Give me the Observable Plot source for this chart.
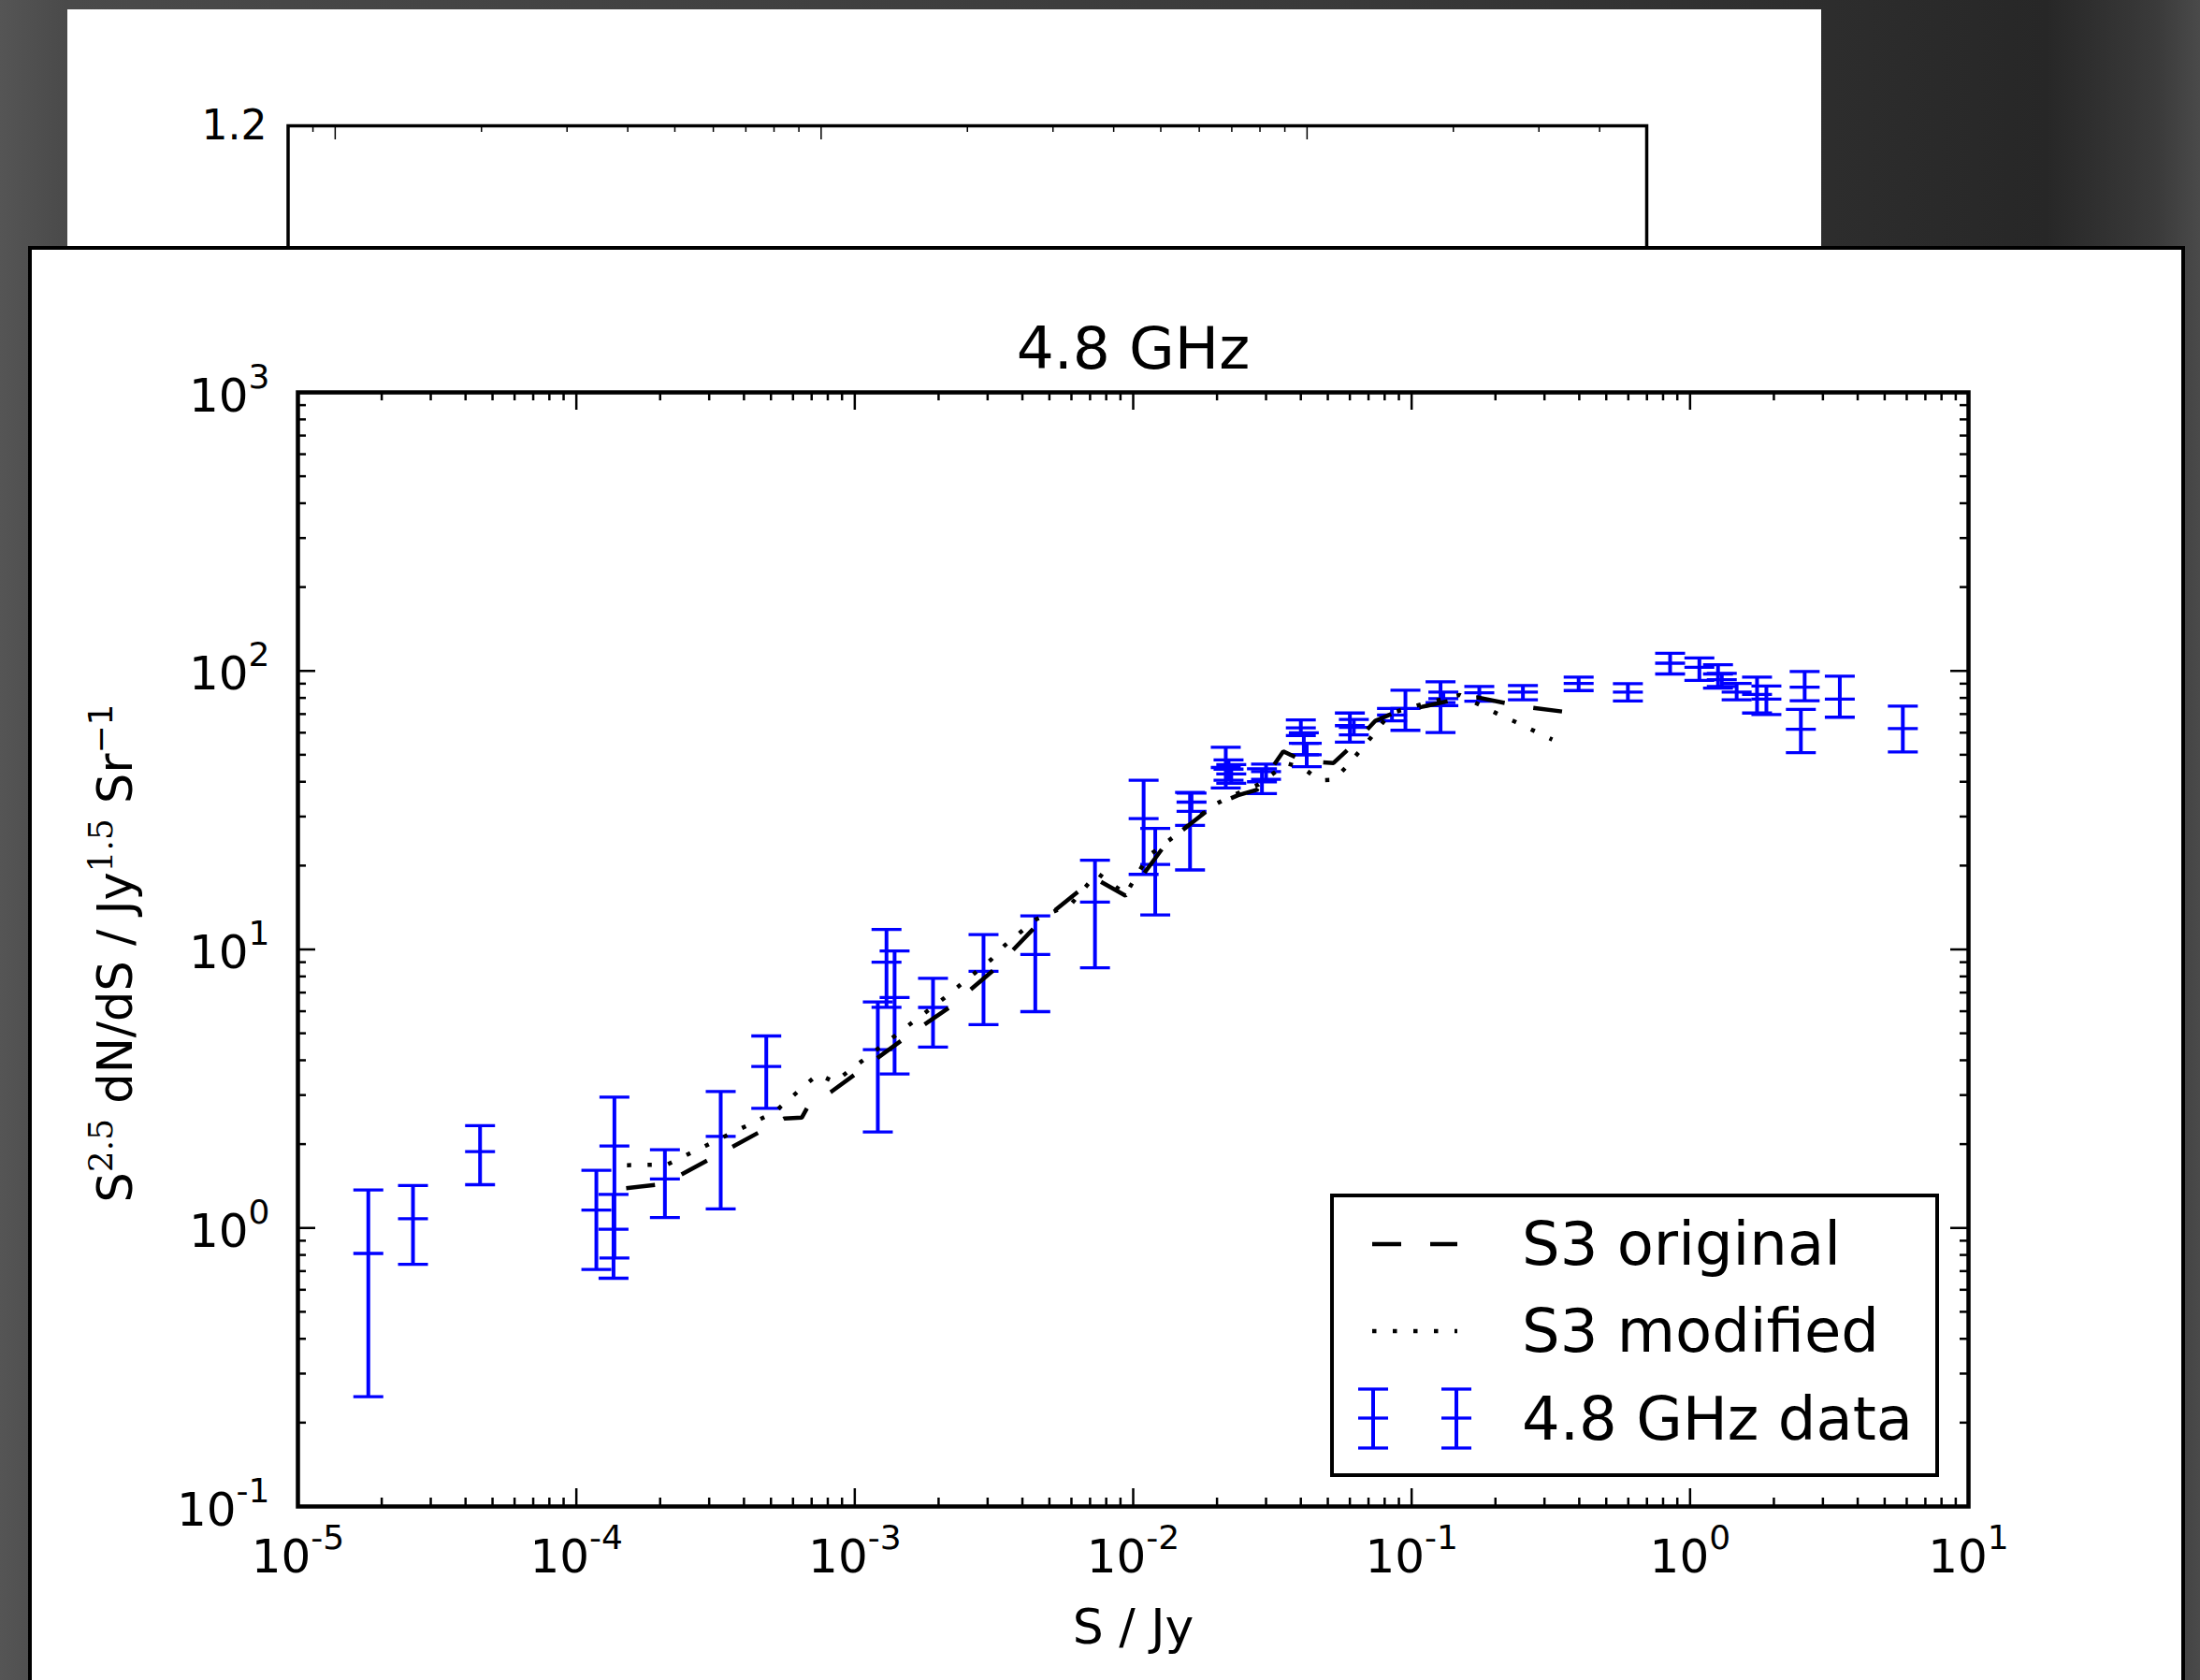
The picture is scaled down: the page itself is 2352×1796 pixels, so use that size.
<!DOCTYPE html>
<html><head><meta charset="utf-8">
<script src="https://cdn.jsdelivr.net/npm/d3@7"></script>
<script src="https://cdn.jsdelivr.net/npm/@observablehq/plot@0.6"></script>
<style>
html,body{margin:0;padding:0;}
body{width:2352px;height:1796px;overflow:hidden;position:relative;
 background:linear-gradient(90deg,#555 0%,#4a4a4a 3%,#424242 30%,#3a3a3a 60%,#2f2f2f 80%,#272727 93%,#3a3a3a 98%,#4a4a4a 100%);
 font-family:"DejaVu Sans";}
#back{position:absolute;left:72px;top:10px;width:1875px;height:400px;background:#fff;overflow:hidden;}
#front{position:absolute;left:30px;top:263px;width:2298px;height:1600px;background:#fff;border:4px solid #000;}
#main{position:absolute;left:40px;top:270px;}
#legend{position:absolute;left:1422px;top:1276px;}
svg text{font-family:"DejaVu Sans";}
</style></head><body>
<div id="back"></div>
<div id="front"></div>
<div id="main"></div>
<div id="legend"></div>
<script>
// ---------- data ----------
const title = "4.8 GHz";
const xLabel = "S / Jy";
const yLabel = "S^2.5 dN/dS / Jy^1.5 Sr^-1";
const legendLabels = ["S3 original", "S3 modified", "4.8 GHz data"];

// 4.8 GHz data points: flux S (Jy), value, lower and upper error bound
const dataS = [1.79e-5, 2.59e-5, 4.51e-5, 1.18e-4, 1.37e-4, 1.36e-4, 2.08e-4, 3.30e-4, 4.81e-4, 1.21e-3, 1.30e-3, 1.39e-3, 1.91e-3, 2.90e-3, 4.45e-3, 7.29e-3, 1.09e-2, 1.20e-2, 1.60e-2, 1.62e-2, 2.15e-2, 2.20e-2, 2.25e-2, 2.90e-2, 3.00e-2, 4.00e-2, 4.10e-2, 4.20e-2, 6.00e-2, 6.20e-2, 8.50e-2, 9.50e-2, 0.127, 0.130, 0.175, 0.251, 0.398, 0.598, 0.848, 1.08, 1.26, 1.30, 1.47, 1.74, 1.88, 2.58, 2.50, 3.45, 5.81];
const dataVal = [0.81, 1.08, 1.88, 1.16, 1.97, 0.99, 1.50, 2.13, 3.80, 4.37, 9.0, 6.72, 6.19, 8.34, 9.59, 14.8, 29.5, 20.2, 27.9, 33.8, 45, 44.4, 42.7, 40.0, 43.5, 62.5, 55.0, 50.0, 63.6, 62.7, 69.5, 73.3, 77, 79.5, 83.4, 83.9, 90.2, 84, 106.6, 103, 97.5, 93, 84, 82.4, 79.2, 87.4, 61.7, 79.2, 62.1];
const dataLo = [0.248, 0.74, 1.43, 0.71, 0.78, 0.66, 1.09, 1.17, 2.69, 2.21, 6.2, 3.57, 4.46, 5.37, 5.98, 8.59, 18.6, 13.3, 19.3, 31.3, 38.0, 40.5, 39.5, 36.3, 40.8, 58.6, 50.0, 45.3, 55.5, 58.9, 66.2, 61.2, 60.1, 75, 77.8, 78.8, 85, 78, 97.5, 92.5, 86.7, 88, 78.8, 70.6, 69.7, 78.2, 50.9, 68.2, 51.2];
const dataHi = [1.37, 1.42, 2.33, 1.61, 2.95, 1.32, 1.91, 3.09, 4.89, 6.48, 11.8, 9.87, 7.88, 11.3, 13.2, 20.9, 40.5, 27.2, 36.6, 36.4, 53.2, 47.9, 46.1, 44.5, 46.3, 66.7, 60.0, 55.0, 70.6, 67.0, 73.3, 85.2, 91.4, 84, 87.9, 88.6, 95, 90, 115.8, 111.4, 105.3, 98, 90.2, 95, 88.3, 99.5, 72.8, 95.7, 74.7];

// S3 original (dashed)
const origS = [1.51e-4, 2.07e-4, 5.58e-4, 6.45e-4, 6.82e-4, 8.22e-4, 1.47e-3, 2.21e-3, 3.19e-3, 4.57e-3, 6.73e-3, 7.28e-3, 9.38e-3, 1.00e-2, 1.32e-2, 1.94e-2, 2.38e-2, 2.78e-2, 3.46e-2, 4.09e-2, 5.24e-2, 6.18e-2, 7.41e-2, 8.87e-2, 0.109, 0.149, 0.173, 0.242, 0.347];
const origV = [1.39, 1.44, 2.47, 2.49, 2.75, 3.08, 4.71, 6.24, 8.52, 12.4, 16.9, 18.0, 15.6, 16.6, 24.2, 32.8, 35.8, 37.4, 51.4, 47.5, 46.7, 54.5, 66.2, 71.5, 74.3, 79.6, 80.3, 74.9, 71.5];

// S3 modified (dotted)
const modS = [1.52e-4, 2.12e-4, 5.13e-4, 7.38e-4, 8.45e-4, 2.10e-3, 3.09e-3, 3.44e-3, 4.46e-3, 6.0e-3, 7.43e-3, 9.4e-3, 1.13e-2, 1.48e-2, 1.91e-2, 2.20e-2, 2.82e-2, 3.56e-2, 4.08e-2, 4.66e-2, 5.27e-2, 5.87e-2, 7.23e-2, 8.37e-2, 0.109, 0.149, 0.202, 0.236, 0.320];
const modV = [1.68, 1.69, 2.60, 3.57, 3.34, 6.70, 9.20, 10.3, 12.8, 14.6, 18.8, 15.8, 21.6, 26.5, 32.6, 35.2, 39.1, 46.6, 44.8, 40.5, 40.7, 45.6, 58.5, 70.4, 76.0, 82.0, 70.4, 65.6, 56.7];

// ticks
const xMajor = [1e-5, 1e-4, 1e-3, 1e-2, 1e-1, 1, 10];
const yMajor = [0.1, 1, 10, 100, 1000];
const minorMult = [2, 3, 4, 5, 6, 7, 8, 9];
// background (partly hidden) panel
const backXMajor = [1, 10, 100];
const backXMinor = [0.9, 2, 3, 4, 5, 6, 7, 8, 9, 20, 30, 40, 50, 60, 70, 80, 90, 200, 300, 400];
const backYTicks = [1.2];

// ---------- derived tables ----------
const xMinor = xMajor.slice(0, -1).flatMap(d => minorMult.map(m => d * m));
const yMinor = yMajor.slice(0, -1).flatMap(d => minorMult.map(m => d * m));
const points = dataS.map((s, i) => ({S: s, v: dataVal[i], lo: dataLo[i], hi: dataHi[i]}));
const orig = origS.map((s, i) => ({S: s, v: origV[i]}));
const mod = modS.map((s, i) => ({S: s, v: modV[i]}));

const BLUE = "#0000ff";
const capSymbol = {draw(ctx, size) { const w = Math.sqrt(size / Math.PI); ctx.moveTo(-w, 0); ctx.lineTo(w, 0); }};
const pow10 = d => "10^" + Math.round(Math.log10(d));

// ---------- back panel ----------
{
  const W = 1875, H = 400, ML = 235.5, MR = 187, MT = 124, MB = 0;
  const FH = H - MT - MB;
  const back = Plot.plot({
    width: W, height: H, marginLeft: ML, marginRight: MR, marginTop: MT, marginBottom: MB,
    x: {type: "log", domain: [0.8, 500], axis: null},
    y: {domain: [0, 1.2]},
    style: {fontFamily: "DejaVu Sans", background: "transparent", overflow: "visible"},
    marks: [
      Plot.tickX(backXMajor, {x: d => d, insetBottom: FH - 15, strokeWidth: 1.5}),
      Plot.tickX(backXMinor, {x: d => d, insetBottom: FH - 7, strokeWidth: 1.5}),
      Plot.axisY(backYTicks, {anchor: "left", tickSize: 0, tickPadding: 22.5, fontSize: 44, tickFormat: d => d.toFixed(1), label: null}),
      Plot.frame({stroke: "#000", strokeWidth: 3.5})
    ]
  });
  document.getElementById("back").appendChild(back);
}

// ---------- main chart ----------
const W = 2290, H = 1526, ML = 278, MR = 226, MT = 149, MB = 186;
const FW = W - ML - MR, FH = H - MT - MB;
const TW = 2.5, MAJ = 19, MIN = 9;

const chart = Plot.plot({
  width: W, height: H, marginLeft: ML, marginRight: MR, marginTop: MT, marginBottom: MB,
  x: {type: "log", domain: [1e-5, 10]},
  y: {type: "log", domain: [0.1, 1000]},
  style: {fontFamily: "DejaVu Sans", background: "transparent", overflow: "visible"},
  marks: [
    // error bars
    Plot.ruleX(points, {x: "S", y1: "lo", y2: "hi", stroke: BLUE, strokeWidth: 4}),
    Plot.dot(points, {x: "S", y: "hi", symbol: capSymbol, r: 16, fill: "none", stroke: BLUE, strokeWidth: 3.3}),
    Plot.dot(points, {x: "S", y: "lo", symbol: capSymbol, r: 16, fill: "none", stroke: BLUE, strokeWidth: 3.3}),
    Plot.dot(points, {x: "S", y: "v", symbol: capSymbol, r: 16, fill: "none", stroke: BLUE, strokeWidth: 3.3}),
    // model lines
    Plot.line(orig, {x: "S", y: "v", stroke: "#000", strokeWidth: 4.5, strokeDasharray: "31,31", strokeLinecap: "butt", strokeLinejoin: "miter"}),
    Plot.line(mod, {x: "S", y: "v", stroke: "#000", strokeWidth: 4.5, strokeDasharray: "4.5,17.5", strokeLinecap: "butt", strokeLinejoin: "miter"}),
    // inward ticks on all four sides
    Plot.tickX(xMajor, {x: d => d, insetTop: FH - MAJ, strokeWidth: TW}),
    Plot.tickX(xMinor, {x: d => d, insetTop: FH - MIN, strokeWidth: TW}),
    Plot.tickX(xMajor, {x: d => d, insetBottom: FH - MAJ, strokeWidth: TW}),
    Plot.tickX(xMinor, {x: d => d, insetBottom: FH - MIN, strokeWidth: TW}),
    Plot.tickY(yMajor, {y: d => d, insetRight: FW - MAJ, strokeWidth: TW}),
    Plot.tickY(yMinor, {y: d => d, insetRight: FW - MIN, strokeWidth: TW}),
    Plot.tickY(yMajor, {y: d => d, insetLeft: FW - MAJ, strokeWidth: TW}),
    Plot.tickY(yMinor, {y: d => d, insetLeft: FW - MIN, strokeWidth: TW}),
    // axes (labels only)
    Plot.axisX(xMajor, {anchor: "bottom", tickSize: 0, tickPadding: 34.5, fontSize: 50, tickFormat: pow10, label: null}),
    Plot.axisY(yMajor, {anchor: "left", tickSize: 0, tickPadding: 30, fontSize: 50, tickFormat: pow10, label: null, dy: 4}),
    // texts
    Plot.text([title], {frameAnchor: "top", text: d => d, fontSize: 63, lineAnchor: "bottom", dy: -26}),
    Plot.text([xLabel], {frameAnchor: "bottom", text: d => d, fontSize: 52, lineAnchor: "bottom", dy: 146}),
    Plot.text([yLabel], {frameAnchor: "left", text: d => d, fontSize: 51, rotate: -90, textAnchor: "middle", lineAnchor: "bottom", dx: -178, dy: 4}),
    Plot.frame({stroke: "#000", strokeWidth: 4.5})
  ]
});

// superscripts as real text (tspans)
d3.select(chart).selectAll("text").each(function () {
  const t = this.textContent;
  const m = /^10\^(-?\d+)$/.exec(t);
  const el = d3.select(this);
  if (m) {
    el.text("10");
    el.append("tspan").attr("dy", -25).attr("font-size", 36).text(m[1]);
  } else if (t === yLabel) {
    el.text("");
    el.attr("text-anchor", "middle").style("text-anchor", "middle");
    const parts = [["S", 0], ["2.5", 1], [" dN/dS / Jy", 0], ["1.5", 1], [" Sr", 0], ["\u22121", 2]];
    let up = false;
    for (const [s, sup] of parts) {
      const ts = el.append("tspan").text(s);
      if (sup) {
        ts.attr("dy", -21).attr("font-size", 36);
        if (sup === 1) ts.attr("font-family", "DejaVu Serif");
        up = true;
      } else if (up) {
        ts.attr("dy", 21);
        up = false;
      }
    }
  }
});
document.getElementById("main").appendChild(chart);

// ---------- legend ----------
{
  const LW = 651, LH = 303;
  const svg = d3.select("#legend").append("svg").attr("width", LW).attr("height", LH)
    .style("font-family", "DejaVu Sans");
  svg.append("rect").attr("x", 2).attr("y", 2).attr("width", LW - 4).attr("height", LH - 4)
    .attr("fill", "#fff").attr("stroke", "#000").attr("stroke-width", 4);
  svg.append("line").attr("x1", 45).attr("x2", 136).attr("y1", 54).attr("y2", 54)
    .attr("stroke", "#000").attr("stroke-width", 4.5).attr("stroke-dasharray", "31,31");
  svg.append("line").attr("x1", 45).attr("x2", 136).attr("y1", 147).attr("y2", 147)
    .attr("stroke", "#000").attr("stroke-width", 4.5).attr("stroke-dasharray", "4.5,17.5");
  for (const cx of [46, 135]) {
    svg.append("line").attr("x1", cx).attr("x2", cx).attr("y1", 209).attr("y2", 272)
      .attr("stroke", BLUE).attr("stroke-width", 4);
    for (const cy of [209, 240, 272]) {
      svg.append("line").attr("x1", cx - 16).attr("x2", cx + 16).attr("y1", cy).attr("y2", cy)
        .attr("stroke", BLUE).attr("stroke-width", 3.3);
    }
  }
  const ys = [76, 169, 263];
  legendLabels.forEach((s, i) => {
    svg.append("text").attr("x", 205).attr("y", ys[i]).attr("font-size", 64).attr("fill", "#000").text(s);
  });
}
</script></body></html>
